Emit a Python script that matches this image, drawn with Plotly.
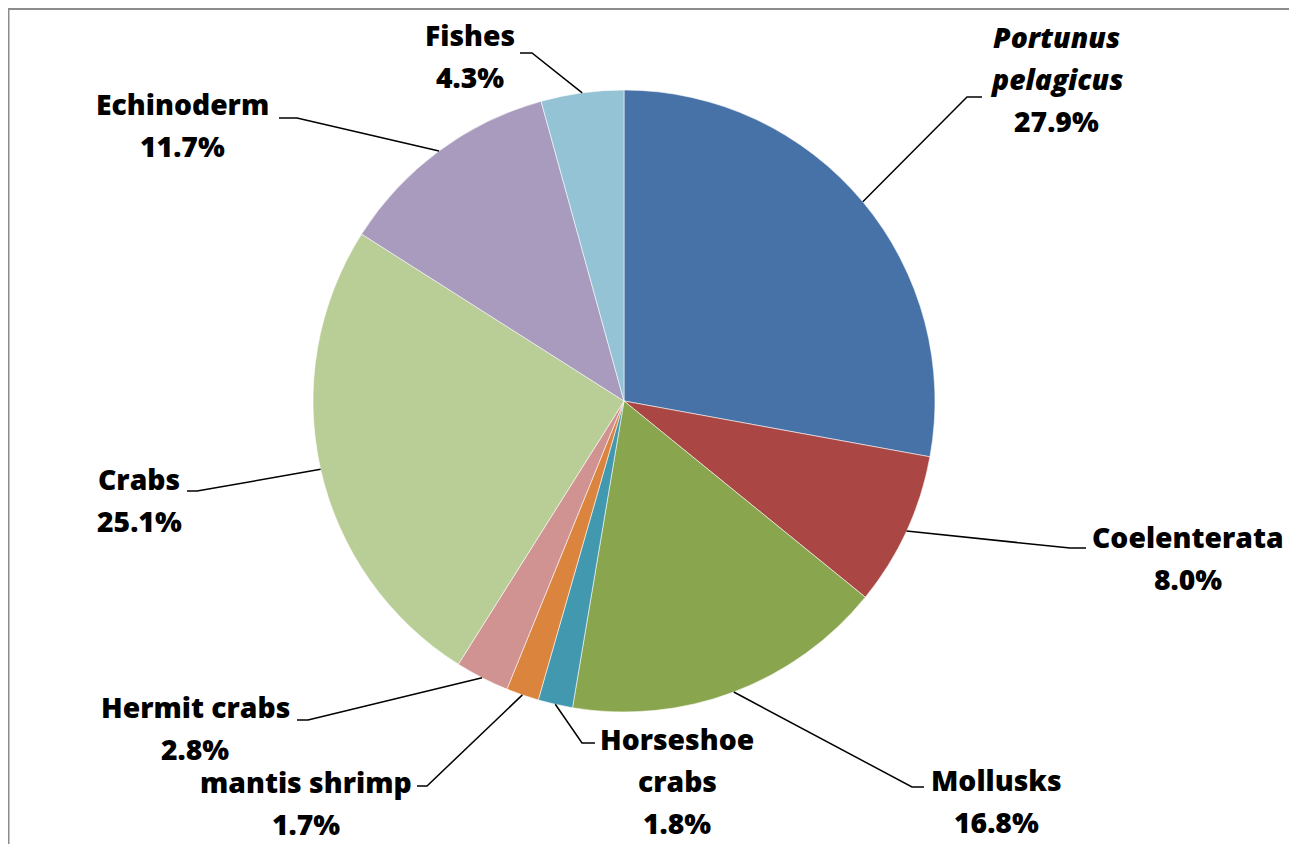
import math
import plotly.graph_objects as go

# ---------------- data ----------------
categories = ["Portunus pelagicus", "Coelenterata", "Mollusks", "Horseshoe crabs",
              "mantis shrimp", "Hermit crabs", "Crabs", "Echinoderm", "Fishes"]
percent = [27.9, 8.0, 16.8, 1.8, 1.7, 2.8, 25.1, 11.7, 4.3]
label_lines = [["<i>Portunus</i>", "<i>pelagicus</i>"], ["Coelenterata"], ["Mollusks"],
               ["Horseshoe", "crabs"], ["mantis shrimp"], ["Hermit crabs"], ["Crabs"],
               ["Echinoderm"], ["Fishes"]]

# ---------------- styles / layout ----------------
colors = ["#4672A8", "#AA4644", "#89A54E", "#4198AF", "#DB843D",
          "#D09392", "#B9CD96", "#A99BBD", "#93C3D4"]
PAGE_OFF = 8                       # default page margin of the html body
W, H = 1297 - PAGE_OFF, 844 - PAGE_OFF
CX, CY, R = 624, 401, 311          # pie centre / radius in page pixels
FONT = "Open Sans"
FS = 28.3
PITCH = 42
# label position (page px): (centre x, centre y of first line)
label_pos = [(1056, 37), (1188, 537), (996, 780), (677, 739), (306, 782),
             (195, 707), (139, 479), (182, 104), (470, 35)]
# leader elbow points: (elbow, end of horizontal stub)
elbows = [((967, 97), (982, 97)), ((1070, 548), (1086, 548)), ((912, 787), (924, 787)),
          ((582, 743), (595, 743)), ((427, 786), (417, 786)), ((308, 720), (297, 720)),
          ((197, 491), (187, 491)), ((297, 118), (279, 118)), ((532, 53), (520, 53))]


def fx(px):
    return (px - PAGE_OFF) / W


def fy(py):
    return 1 - (py - PAGE_OFF) / H


fig = go.Figure()
fig.add_trace(go.Pie(
    labels=categories, values=percent, sort=False, direction="clockwise", rotation=0,
    marker=dict(colors=colors, line=dict(color="rgba(255,255,255,0.7)", width=0.8)),
    textinfo="none", hoverinfo="label+percent", showlegend=False,
    domain=dict(x=[fx(CX - R), fx(CX + R)], y=[fy(CY + R), fy(CY - R)]),
))

# leader lines starting at slice mid-angles (from data)
total = sum(percent)
cum = 0.0
shapes = []
annotations = []
for i, v in enumerate(percent):
    mid = (cum + v / 2) / total * 2 * math.pi
    cum += v
    sx = CX + R * math.sin(mid)
    sy = CY - R * math.cos(mid)
    (ex, ey), (tx, ty) = elbows[i]
    shapes.append(dict(type="path", xref="x", yref="y",
                       path=f"M {sx:.1f},{sy:.1f} L {ex},{ey} L {tx},{ty}",
                       line=dict(color="black", width=1.5)))
    lx, ly = label_pos[i]
    lines = label_lines[i] + [f"{v:.1f}%"]
    for j, t in enumerate(lines):
        annotations.append(dict(x=lx, y=ly + j * PITCH, xref="x", yref="y",
                                text=t, showarrow=False,
                                xanchor="center", yanchor="middle",
                                font=dict(family=FONT, size=FS, color="black", weight=800)))

# chart frame
shapes.append(dict(type="rect", xref="x", yref="y", x0=8.5, x1=1293, y0=9, y1=870,
                   line=dict(color="#8C8C8C", width=2), fillcolor="rgba(0,0,0,0)"))

fig.update_layout(
    width=W, height=H, margin=dict(l=0, r=0, t=0, b=0),
    paper_bgcolor="white", plot_bgcolor="rgba(0,0,0,0)",
    xaxis=dict(range=[PAGE_OFF, PAGE_OFF + W], visible=False, fixedrange=True),
    yaxis=dict(range=[PAGE_OFF + H, PAGE_OFF], visible=False, fixedrange=True),
    shapes=shapes, annotations=annotations, showlegend=False,
)
fig.write_html("out.html")
